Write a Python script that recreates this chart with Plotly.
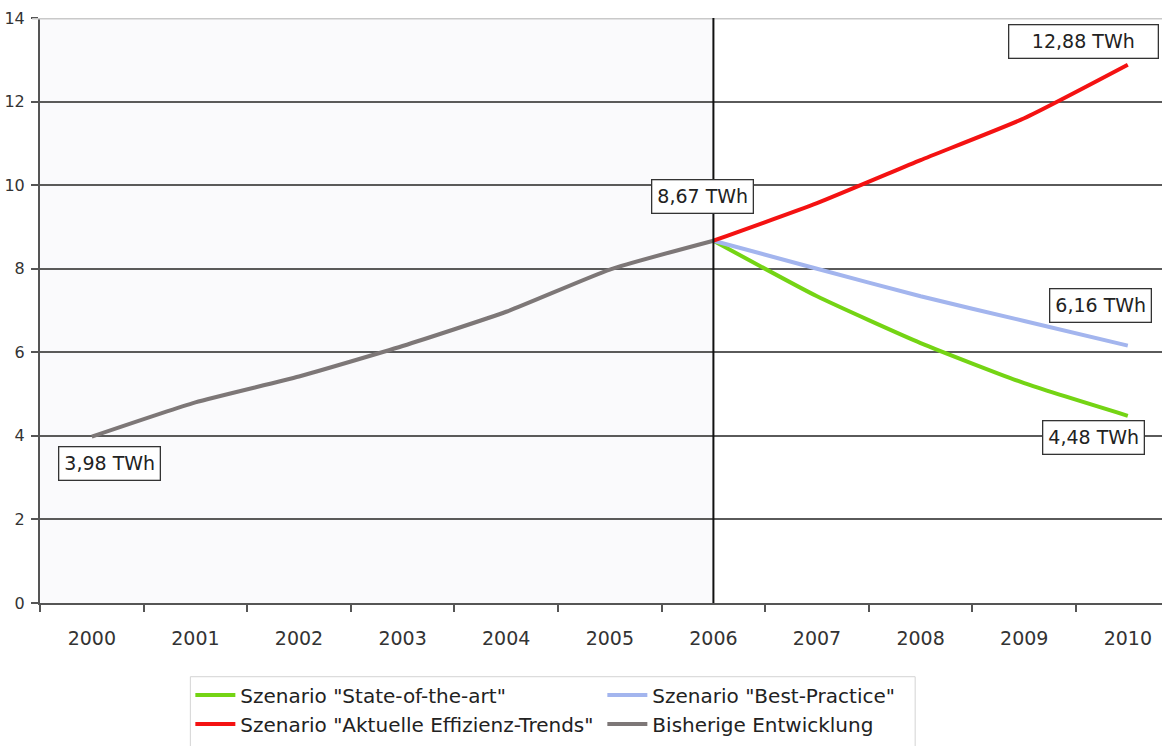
import plotly.graph_objects as go

# Categories and series (TWh)
years = ["2000", "2001", "2002", "2003", "2004", "2005", "2006", "2007", "2008", "2009", "2010"]
hist_years = years[:7]
hist_values = [3.98, 4.80, 5.42, 6.15, 6.97, 7.98, 8.67]
scen_years = years[6:]
state_of_the_art = [8.67, 7.34, 6.22, 5.26, 4.48]
best_practice = [8.67, 8.00, 7.34, 6.75, 6.16]
effizienz_trends = [8.67, 9.57, 10.60, 11.60, 12.88]

y_ticks = [0, 2, 4, 6, 8, 10, 12, 14]

FONT = "DejaVu Sans"

fig = go.Figure()

line_common = dict(shape="spline", smoothing=0.5, width=4)

fig.add_trace(go.Scatter(
    x=hist_years, y=hist_values, mode="lines", name="Bisherige Entwicklung",
    line=dict(color="#7d7777", **line_common), legendrank=4,
))
fig.add_trace(go.Scatter(
    x=scen_years, y=state_of_the_art, mode="lines", name='Szenario "State-of-the-art"',
    line=dict(color="#74d414", **line_common), legendrank=1,
))
fig.add_trace(go.Scatter(
    x=scen_years, y=best_practice, mode="lines", name='Szenario "Best-Practice"',
    line=dict(color="#a3b5ee", **line_common), legendrank=2,
))
fig.add_trace(go.Scatter(
    x=scen_years, y=effizienz_trends, mode="lines", name='Szenario "Aktuelle Effizienz-Trends"',
    line=dict(color="#f41212", **line_common), legendrank=3,
))

# Shaded history section and the 2006 divider
fig.add_shape(type="rect", xref="x", yref="y", x0=-0.5, x1=6, y0=0, y1=14,
              fillcolor="#fafafc", line_width=0, layer="below")
fig.add_shape(type="line", xref="paper", yref="y", x0=-0.007, x1=1, y0=14, y1=14,
              line=dict(color="#c9c9c9", width=3), layer="above")
fig.add_shape(type="line", xref="x", yref="y", x0=6, x1=6, y0=-0.08, y1=14,
              line=dict(color="#111111", width=2), layer="above")

# Legend frame
fig.add_shape(type="rect", xref="paper", yref="paper", x0=0.134, x1=0.78, y0=-0.126, y1=-0.27,
              line=dict(color="#d4d4d4", width=1), fillcolor="rgba(0,0,0,0)")

# Value labels
labels = [
    (0.17, 3.33, "3,98 TWh", None),
    (5.89, 9.74, "8,67 TWh", None),
    (9.57, 13.44, "12,88 TWh", 138),
    (9.74, 7.13, "6,16 TWh", None),
    (9.67, 3.97, "4,48 TWh", None),
]
for lx, ly, txt, w in labels:
    ann = dict(x=lx, y=ly, xref="x", yref="y", text=txt, showarrow=False,
               font=dict(family=FONT, size=19, color="#222222"),
               bgcolor="#ffffff", bordercolor="#333333", borderwidth=1.3, borderpad=5)
    if w:
        ann["width"] = w
    fig.add_annotation(**ann)

fig.update_layout(
    width=1162, height=746,
    margin=dict(l=40, r=0, t=18, b=143),
    paper_bgcolor="#ffffff", plot_bgcolor="#ffffff",
    font=dict(family=FONT, size=19, color="#333333"),
    showlegend=True,
    legend=dict(
        orientation="h", x=0.134, y=-0.124, xanchor="left", yanchor="top",
        entrywidth=357, entrywidthmode="pixels",
        borderwidth=0, bgcolor="rgba(0,0,0,0)",
        font=dict(family=FONT, size=20, color="#222222"),
        itemwidth=40,
    ),
    xaxis=dict(
        type="category", categoryorder="array", categoryarray=years,
        range=[-0.5, 10.33], tickson="boundaries", automargin=False,
        ticks="outside", ticklen=7, tickcolor="#555555", tickwidth=1.5,
        showline=True, linecolor="#555555", linewidth=2,
        showgrid=False, zeroline=False, ticklabelstandoff=17,
        tickfont=dict(family=FONT, size=19, color="#333333"),
    ),
    yaxis=dict(
        range=[0, 14], tickvals=y_ticks, automargin=False,
        ticks="outside", ticklen=7, tickcolor="#555555", tickwidth=1.5,
        showline=True, linecolor="#555555", linewidth=2,
        showgrid=True, gridcolor="#5a5a5a", gridwidth=1.6, zeroline=False,
        ticklabelstandoff=3,
        tickfont=dict(family=FONT, size=16, color="#333333"),
    ),
)

fig.write_html("out.html")
